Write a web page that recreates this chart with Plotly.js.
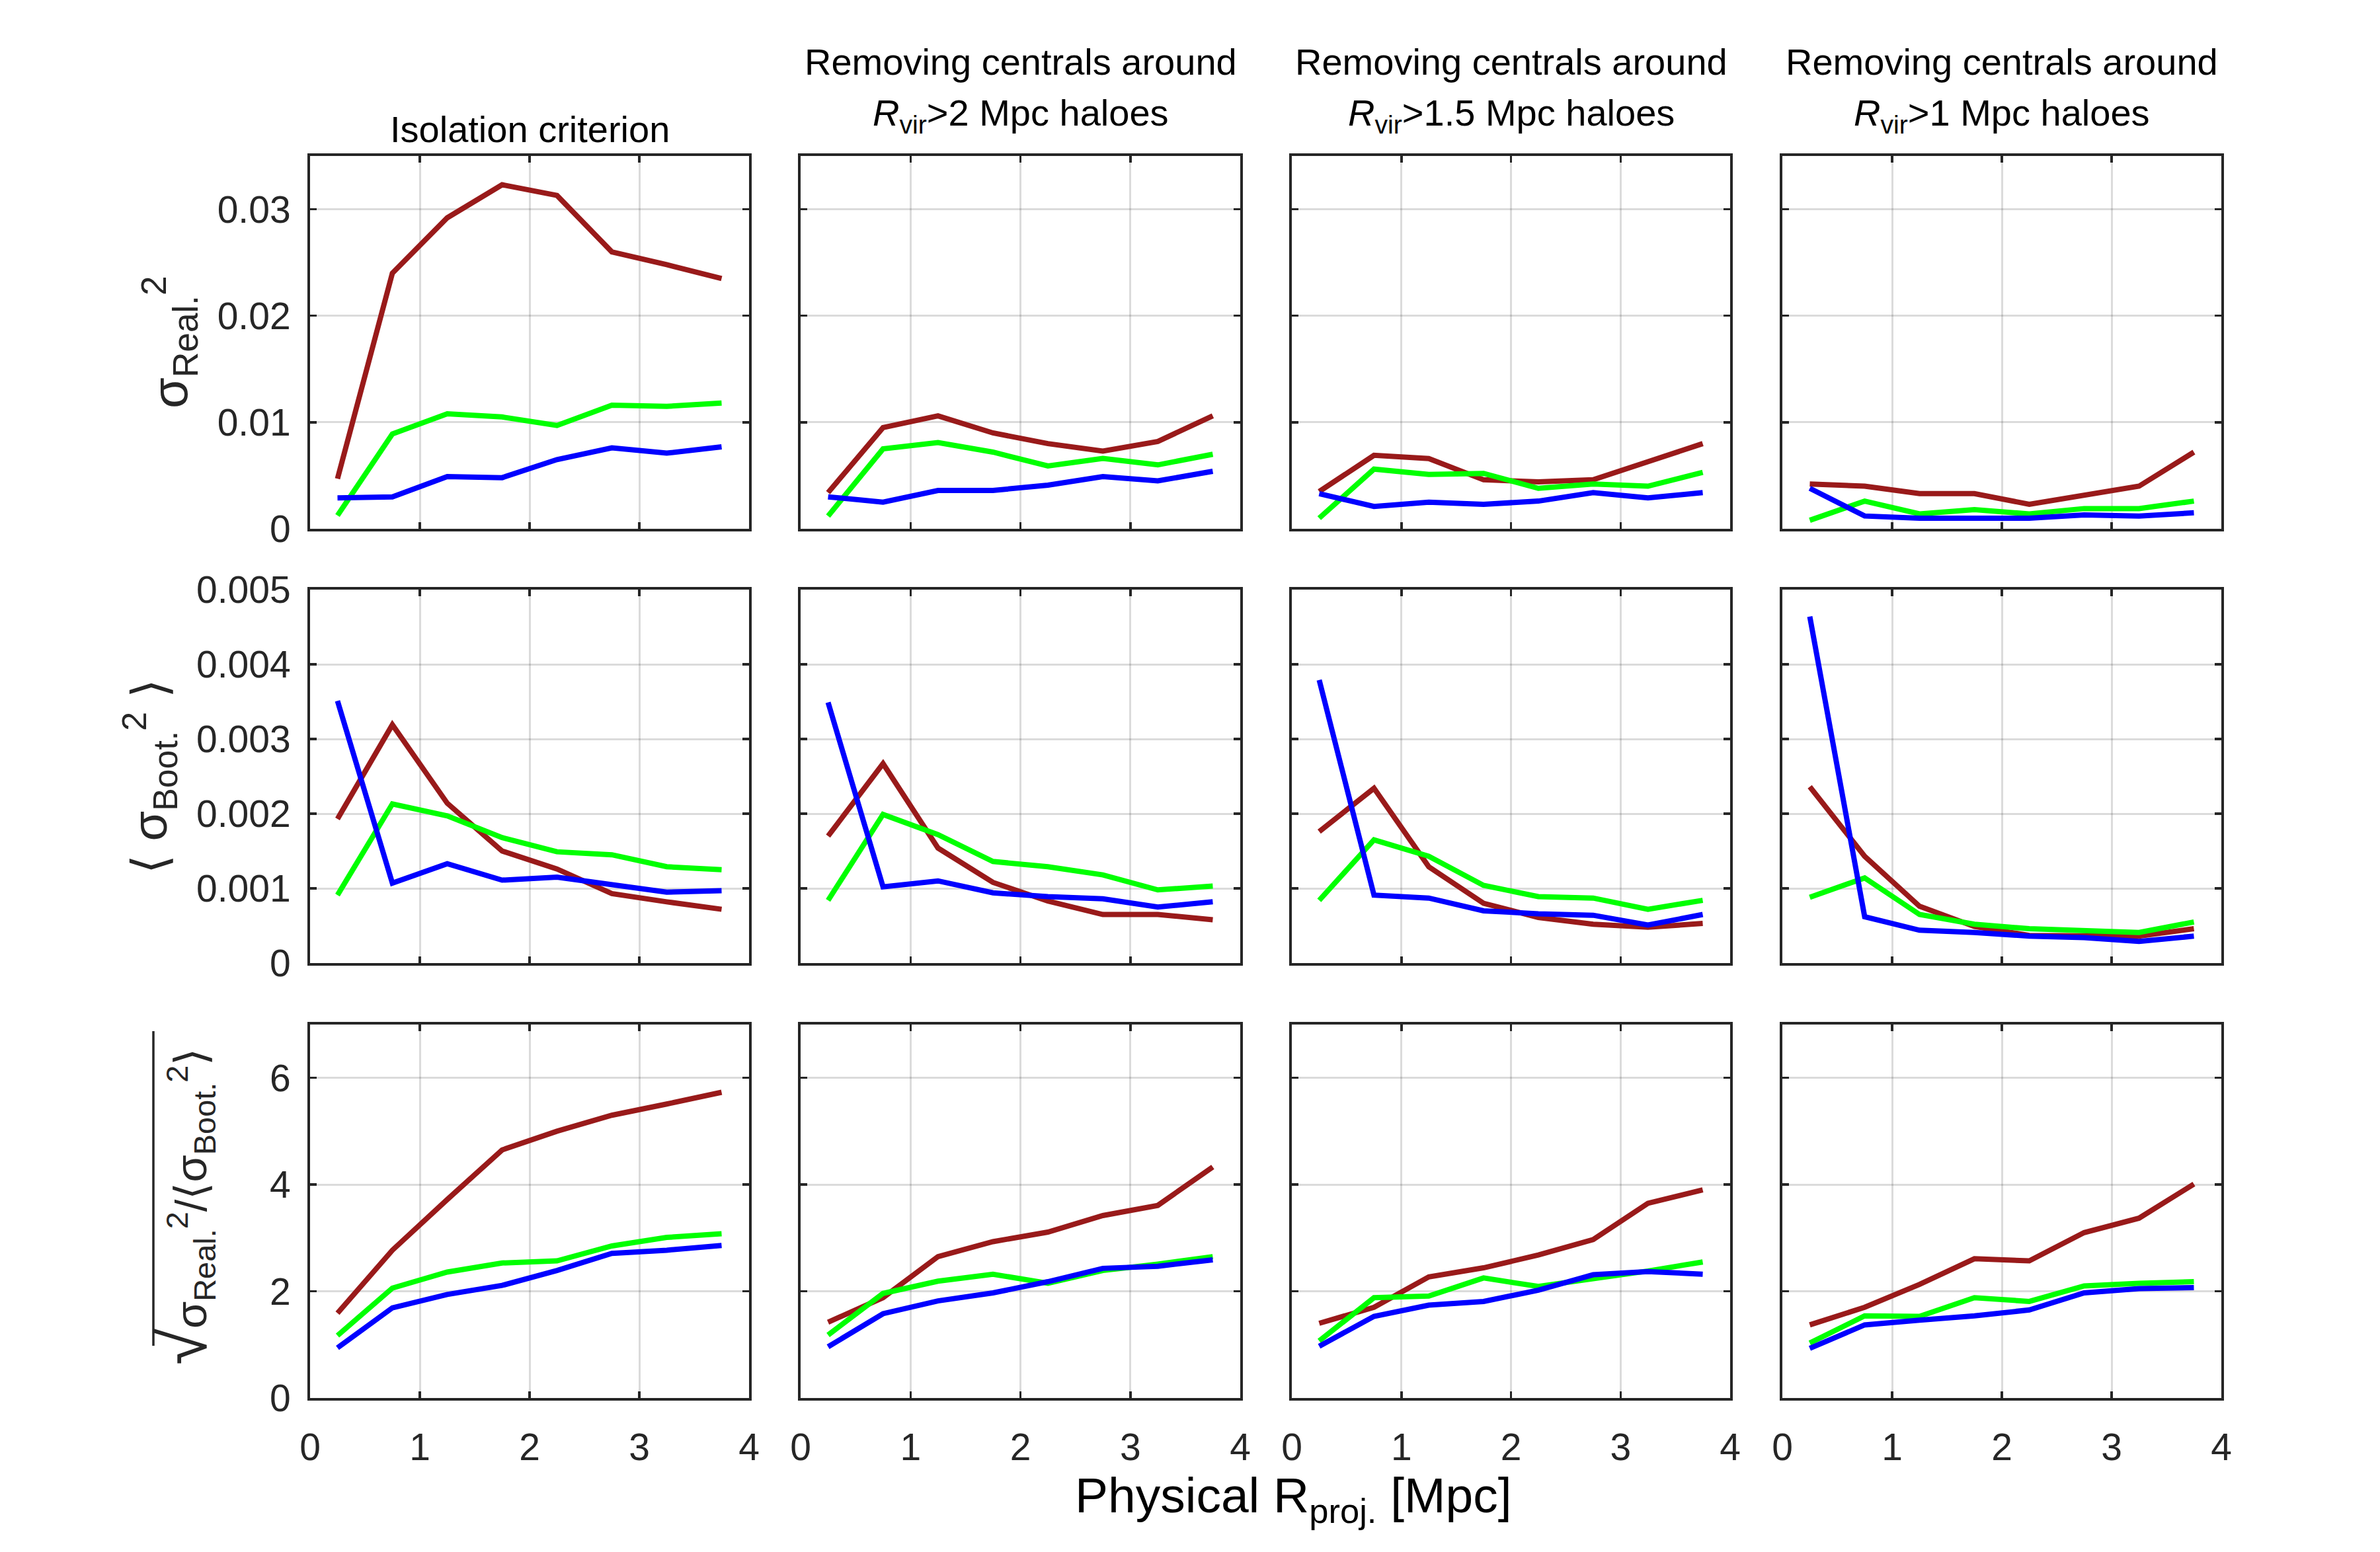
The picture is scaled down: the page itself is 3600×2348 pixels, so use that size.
<!DOCTYPE html>
<html>
<head>
<meta charset="utf-8">
<script src="https://cdn.plot.ly/plotly-3.0.1.min.js"></script>
<style>html,body{margin:0;padding:0;background:#fff;}#chart{width:3600px;height:2348px;}</style>
</head>
<body>
<div id="chart"></div>
<script>
// ---------------- DATA ----------------
const rProj = [0.25, 0.75, 1.25, 1.75, 2.25, 2.75, 3.25, 3.75];
const xTickVals = [0, 1, 2, 3, 4];
const xTickText = ['0', '1', '2', '3', '4'];

const colTitles1 = ['', 'Removing centrals around', 'Removing centrals around', 'Removing centrals around'];
const colTitles2 = ['Isolation criterion', '<i>R</i><sub>vir</sub>&gt;2 Mpc haloes', '<i>R</i><sub>vir</sub>&gt;1.5 Mpc haloes', '<i>R</i><sub>vir</sub>&gt;1 Mpc haloes'];

const row1TickVals = [0, 0.01, 0.02, 0.03];
const row1TickText = ['0', '0.01', '0.02', '0.03'];
const row2TickVals = [0, 0.001, 0.002, 0.003, 0.004, 0.005];
const row2TickText = ['0', '0.001', '0.002', '0.003', '0.004', '0.005'];
const row3TickVals = [0, 2, 4, 6];
const row3TickText = ['0', '2', '4', '6'];

// Row 1: sigma_Real^2
const realIsoRed   = [0.0047, 0.0240, 0.0292, 0.0323, 0.0313, 0.0260, 0.0248, 0.0235];
const realIsoGreen = [0.00125, 0.0089, 0.0108, 0.0105, 0.0097, 0.0116, 0.0115, 0.0118];
const realIsoBlue  = [0.0029, 0.0030, 0.0049, 0.0048, 0.0065, 0.0076, 0.0071, 0.0077];
const realR2Red    = [0.0034, 0.0095, 0.0106, 0.0090, 0.0080, 0.0073, 0.0082, 0.0106];
const realR2Green  = [0.0012, 0.0075, 0.0081, 0.0072, 0.0059, 0.0066, 0.0060, 0.0070];
const realR2Blue   = [0.0030, 0.0025, 0.0036, 0.0036, 0.0041, 0.0049, 0.0045, 0.0054];
const realR15Red   = [0.0035, 0.0069, 0.0066, 0.0046, 0.0044, 0.0046, 0.0063, 0.0080];
const realR15Green = [0.0010, 0.0056, 0.0051, 0.0052, 0.0038, 0.0042, 0.0040, 0.0053];
const realR15Blue  = [0.0033, 0.0021, 0.0025, 0.0023, 0.0026, 0.0034, 0.0029, 0.0034];
const realR1Red    = [0.0042, 0.0040, 0.0033, 0.0033, 0.0023, 0.0032, 0.0040, 0.0072];
const realR1Green  = [0.0008, 0.0026, 0.0014, 0.0018, 0.0014, 0.0019, 0.0019, 0.0026];
const realR1Blue   = [0.0038, 0.0012, 0.0010, 0.0010, 0.0010, 0.0013, 0.0012, 0.0015];

// Row 2: <sigma_Boot^2>
const bootIsoRed   = [0.00193, 0.00319, 0.00214, 0.00150, 0.00126, 0.00093, 0.00082, 0.00072];
const bootIsoGreen = [0.00091, 0.00213, 0.00197, 0.00168, 0.00149, 0.00145, 0.00129, 0.00125];
const bootIsoBlue  = [0.00351, 0.00107, 0.00133, 0.00111, 0.00115, 0.00105, 0.00095, 0.00097];
const bootR2Red    = [0.00170, 0.00267, 0.00154, 0.00108, 0.00083, 0.00065, 0.00065, 0.00058];
const bootR2Green  = [0.00084, 0.00199, 0.00172, 0.00136, 0.00129, 0.00118, 0.00098, 0.00103];
const bootR2Blue   = [0.00349, 0.00102, 0.00110, 0.00094, 0.00089, 0.00086, 0.00075, 0.00082];
const bootR15Red   = [0.00176, 0.00234, 0.00129, 0.00080, 0.00061, 0.00052, 0.00048, 0.00053];
const bootR15Green = [0.00084, 0.00165, 0.00143, 0.00104, 0.00089, 0.00087, 0.00072, 0.00084];
const bootR15Blue  = [0.00379, 0.00091, 0.00087, 0.00070, 0.00066, 0.00064, 0.00051, 0.00065];
const bootR1Red    = [0.00236, 0.00143, 0.00076, 0.00049, 0.00037, 0.00036, 0.00036, 0.00046];
const bootR1Green  = [0.00088, 0.00114, 0.00065, 0.00052, 0.00046, 0.00044, 0.00041, 0.00055];
const bootR1Blue   = [0.00464, 0.00062, 0.00044, 0.00041, 0.00036, 0.00034, 0.00029, 0.00036];

// Row 3: sqrt(sigma_Real^2 / <sigma_Boot^2>)
const ratioIsoRed   = [1.59, 2.77, 3.72, 4.65, 5.00, 5.30, 5.51, 5.73];
const ratioIsoGreen = [1.17, 2.06, 2.36, 2.53, 2.57, 2.85, 3.01, 3.08];
const ratioIsoBlue  = [0.94, 1.69, 1.94, 2.11, 2.39, 2.71, 2.77, 2.86];
const ratioR2Red    = [1.42, 1.88, 2.65, 2.93, 3.11, 3.42, 3.61, 4.33];
const ratioR2Green  = [1.18, 1.96, 2.19, 2.32, 2.15, 2.39, 2.51, 2.65];
const ratioR2Blue   = [0.96, 1.58, 1.82, 1.97, 2.18, 2.43, 2.47, 2.59];
const ratioR15Red   = [1.40, 1.70, 2.27, 2.44, 2.68, 2.97, 3.65, 3.90];
const ratioR15Green = [1.07, 1.88, 1.91, 2.25, 2.09, 2.23, 2.38, 2.55];
const ratioR15Blue  = [0.97, 1.53, 1.74, 1.81, 2.02, 2.31, 2.37, 2.32];
const ratioR1Red    = [1.37, 1.70, 2.13, 2.61, 2.57, 3.10, 3.37, 4.01];
const ratioR1Green  = [1.03, 1.54, 1.53, 1.88, 1.81, 2.10, 2.15, 2.18];
const ratioR1Blue   = [0.93, 1.37, 1.46, 1.54, 1.65, 1.97, 2.05, 2.07];

// ---------------- LAYOUT ----------------
const W = 3600, H = 2348;
const FONT = 'Liberation Sans, Arial, Helvetica, sans-serif';
const TXT = '#262626';
const seriesColors = ['#991a1a', '#00ff00', '#0000ff'];

const panels = [
  [realIsoRed, realIsoGreen, realIsoBlue], [realR2Red, realR2Green, realR2Blue],
  [realR15Red, realR15Green, realR15Blue], [realR1Red, realR1Green, realR1Blue],
  [bootIsoRed, bootIsoGreen, bootIsoBlue], [bootR2Red, bootR2Green, bootR2Blue],
  [bootR15Red, bootR15Green, bootR15Blue], [bootR1Red, bootR1Green, bootR1Blue],
  [ratioIsoRed, ratioIsoGreen, ratioIsoBlue], [ratioR2Red, ratioR2Green, ratioR2Blue],
  [ratioR15Red, ratioR15Green, ratioR15Blue], [ratioR1Red, ratioR1Green, ratioR1Blue]
];
const rowTicks = [[row1TickVals, row1TickText], [row2TickVals, row2TickText], [row3TickVals, row3TickText]];
const rowRanges = [[0, 0.035], [0, 0.005], [0, 7]];

const colsPx = [[469, 1133], [1211, 1876], [1954, 2617], [2696, 3360]];
const rowsPx = [[236, 800], [892, 1457], [1550, 2115]];

const layout = {
  width: W, height: H,
  margin: {l: 0, r: 0, t: 0, b: 0},
  paper_bgcolor: '#ffffff', plot_bgcolor: '#ffffff',
  showlegend: false,
  font: {family: FONT, color: TXT},
  annotations: [], shapes: []
};
const traces = [];

for (let r = 0; r < 3; r++) {
  for (let c = 0; c < 4; c++) {
    const i = r * 4 + c + 1;
    const xk = i === 1 ? 'xaxis' : 'xaxis' + i;
    const yk = i === 1 ? 'yaxis' : 'yaxis' + i;
    const xr = i === 1 ? 'x' : 'x' + i;
    const yr = i === 1 ? 'y' : 'y' + i;
    const common = {
      ticks: 'inside', ticklen: 10, tickwidth: 3.5, tickcolor: TXT,
      showline: true, linecolor: TXT, linewidth: 4, mirror: 'ticks',
      showgrid: true, gridcolor: 'rgba(0,0,0,0.14)', gridwidth: 3,
      zeroline: false, fixedrange: true,
      tickfont: {family: FONT, size: 57, color: TXT}
    };
    layout[xk] = Object.assign({}, common, {
      domain: [colsPx[c][0] / W, colsPx[c][1] / W], anchor: yr,
      range: [0, 4], tickmode: 'array', tickvals: xTickVals, ticktext: xTickText,
      showticklabels: r === 2, ticklabelstandoff: 22
    });
    layout[yk] = Object.assign({}, common, {
      domain: [1 - rowsPx[r][1] / H, 1 - rowsPx[r][0] / H], anchor: xr,
      range: rowRanges[r], tickmode: 'array', tickvals: rowTicks[r][0], ticktext: rowTicks[r][1],
      showticklabels: c === 0, ticklabelstandoff: 14
    });
    panels[i - 1].forEach((ys, k) => {
      traces.push({x: rProj, y: ys, xaxis: xr, yaxis: yr, type: 'scatter', mode: 'lines',
        line: {color: seriesColors[k], width: 8}, hoverinfo: 'skip'});
    });
  }
}

// column titles
for (let c = 0; c < 4; c++) {
  const cx = (colsPx[c][0] + colsPx[c][1]) / 2 / W;
  if (colTitles1[c]) {
    layout.annotations.push({xref: 'paper', yref: 'paper', x: cx, y: 1 - 93 / H, xanchor: 'center', yanchor: 'middle',
      text: colTitles1[c], showarrow: false, font: {family: FONT, size: 56, color: '#000'}});
    layout.annotations.push({xref: 'paper', yref: 'paper', x: cx, y: 1 - 175 / H, xanchor: 'center', yanchor: 'middle',
      text: colTitles2[c], showarrow: false, font: {family: FONT, size: 56, color: '#000'}});
  } else {
    layout.annotations.push({xref: 'paper', yref: 'paper', x: cx, y: 1 - 196 / H, xanchor: 'center', yanchor: 'middle',
      text: colTitles2[c], showarrow: false, font: {family: FONT, size: 56, color: '#000'}});
  }
}

// x-axis label
layout.annotations.push({xref: 'paper', yref: 'paper', x: 1956 / W, y: 1 - 2267 / H, xanchor: 'center', yanchor: 'middle',
  text: 'Physical R<sub>proj.</sub> [Mpc]', showarrow: false, font: {family: FONT, size: 75, color: '#000'}});

// y-axis labels
layout.annotations.push({xref: 'paper', yref: 'paper', x: 256 / W, y: 1 - 518 / H, xanchor: 'center', yanchor: 'middle',
  textangle: -90, text: 'σ<sub>Real.</sub><sup>2</sup>', showarrow: false, font: {family: FONT, size: 76, color: TXT}});
layout.annotations.push({xref: 'paper', yref: 'paper', x: 226 / W, y: 1 - 1175 / H, xanchor: 'center', yanchor: 'middle',
  textangle: -90, text: '⟨ σ<sub>Boot.</sub><sup>2</sup> ⟩', showarrow: false, font: {family: FONT, size: 74, color: TXT}});
layout.annotations.push({xref: 'paper', yref: 'paper', x: 278 / W, y: 1 - 1826 / H, xanchor: 'center', yanchor: 'middle',
  textangle: -90, text: '<span style="font-size:100px">√</span>σ<sub>Real.</sub><sup>2</sup>/⟨σ<sub>Boot.</sub><sup>2</sup>⟩',
  showarrow: false, font: {family: FONT, size: 67, color: TXT}});
// overline of the square root
layout.shapes.push({type: 'line', xref: 'paper', yref: 'paper', x0: 232 / W, x1: 232 / W, y0: 1 - 2036 / H, y1: 1 - 1560 / H,
  line: {color: TXT, width: 3.5}});

Plotly.newPlot('chart', traces, layout, {displayModeBar: false, staticPlot: true});
</script>
</body>
</html>
